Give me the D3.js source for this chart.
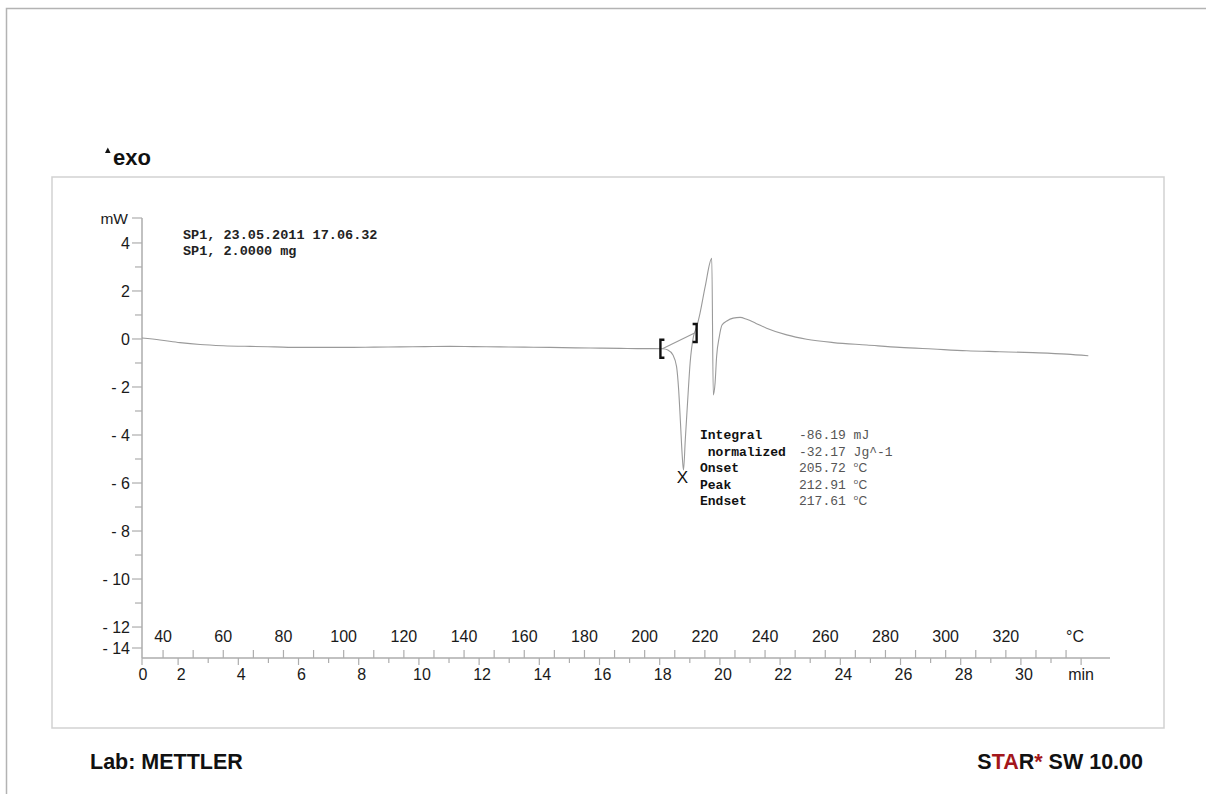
<!DOCTYPE html>
<html>
<head>
<meta charset="utf-8">
<script src="https://cdn.jsdelivr.net/npm/d3@7"></script>
<style>
  body { margin: 0; background: #fff; }
  svg { display: block; }
</style>
</head>
<body>
<svg id="chart" width="1206" height="794"></svg>
<script>
// DSC run of sample SP1: heat flow (mW) against sample temperature (°C)
const temperature = [33, 39, 45.6, 52.3, 60, 68.9, 77, 85.5, 94, 102.1,
  110, 118.7, 127, 135.3, 143, 151.9, 160, 168.5, 177, 185.2,
  192, 198.4, 203, 206.0, 207.7, 209.4, 210.6, 211.3, 211.9, 212.5,
  212.9, 213.5, 214.3, 215.1, 216.2, 217.3, 218.4, 220.1, 222.3, 222.8,
  223.4, 223.9, 224.8, 225.7, 227.3, 229.4, 231.7, 233.9, 237.0, 240.5,
  247.2, 253.8, 262.7, 273.8, 284.8, 295.8, 307.0, 318.0, 329.0, 340.2,
  347.4];
const heatFlow = [0.04, -0.04, -0.15, -0.23, -0.28, -0.31, -0.33, -0.35, -0.35, -0.35,
  -0.34, -0.33, -0.32, -0.31, -0.32, -0.33, -0.34, -0.35, -0.37, -0.38,
  -0.39, -0.40, -0.40, -0.41, -0.46, -0.67, -1.15, -2.13, -3.5, -4.9,
  -5.46, -4.2, -2.54, -1.0, 0.10, 0.51, 1.08, 2.18, 3.36, -2.33,
  -1.83, -0.74, 0.10, 0.58, 0.75, 0.87, 0.90, 0.82, 0.65, 0.45,
  0.17, -0.01, -0.15, -0.25, -0.35, -0.42, -0.49, -0.53, -0.57, -0.63,
  -0.70];

// Temperature program: start temperature and heating rate (K/min)
const startTemperature = 25;
const heatingRate = 10;

// Axis ticks
const tempTicks = [40, 60, 80, 100, 120, 140, 160, 180, 200, 220, 240, 260, 280, 300, 320];
const tempMinorTicks = [50, 70, 90, 110, 130, 150, 170, 190, 210, 230, 250, 270, 290, 310, 330];
const tempUnitTick = 340;
const timeTicks = [0, 2, 4, 6, 8, 10, 12, 14, 16, 18, 20, 22, 24, 26, 28, 30];
const timeMinorTicks = [3, 5, 7, 9, 11, 13, 15, 17, 19, 21, 23, 25, 27, 29, 31];
const timeUnitTick = 32;
const heatTicks = [4, 2, 0, -2, -4, -6, -8, -10, -12, -14];
const heatMinorTicks = [3, 1, -1, -3, -5, -7, -9, -11];

// Peak evaluation
const evalLabels = ["Integral", " normalized", "Onset", "Peak", "Endset"];
const evalValues = ["-86.19", "-32.17", "205.72", "212.91", "217.61"];
const evalUnits = ["mJ", "Jg^-1", "°C", "°C", "°C"];
const integrationLimits = [205.9, 216.6];
const peakTemperature = 212.9;

const headerLines = ["SP1, 23.05.2011 17.06.32", "SP1, 2.0000 mg"];

const svg = d3.select("#chart");
const axisColor = "#adadad";
const textColor = "#1a1a1a";
const sans = "'Liberation Sans', Arial, sans-serif";
const mono = "'Liberation Mono', 'Courier New', monospace";

// Page border and plot frame
svg.append("path").attr("d", "M6.5,794 V8.5 H1206")
  .attr("fill", "none").attr("stroke", "#b3b3b3").attr("stroke-width", 1.5);
svg.append("rect").attr("x", 52).attr("y", 177).attr("width", 1112).attr("height", 551)
  .attr("fill", "none").attr("stroke", "#d2d2d2").attr("stroke-width", 1.5);

// Scales
const x = d3.scaleLinear().domain([33, 354.6]).range([142, 1110]);
const y = d3.scaleLinear().domain([-13.29, 5.04]).range([658, 218]);
const timeToTemp = t => startTemperature + heatingRate * t;
const [xLeft, xRight] = x.range();
const [yBottom, yTop] = y.range();

// Axis lines
svg.append("line").attr("x1", xLeft).attr("x2", xLeft).attr("y1", yTop).attr("y2", yBottom)
  .attr("stroke", axisColor).attr("stroke-width", 1.5);
svg.append("line").attr("x1", xLeft).attr("x2", xRight).attr("y1", yBottom).attr("y2", yBottom)
  .attr("stroke", axisColor).attr("stroke-width", 1.5);

// Heat-flow axis (labels clamped inside the axis span)
const yPos = v => Math.min(y(v), yBottom - 10);
const yAxis = svg.append("g");
yAxis.selectAll("line.major").data(heatTicks).join("line")
  .attr("x1", xLeft - 10).attr("x2", xLeft).attr("y1", d => yPos(d)).attr("y2", d => yPos(d))
  .attr("stroke", axisColor).attr("stroke-width", 1.2);
yAxis.selectAll("line.minor").data(heatMinorTicks).join("line")
  .attr("x1", xLeft - 7).attr("x2", xLeft).attr("y1", d => y(d)).attr("y2", d => y(d))
  .attr("stroke", axisColor).attr("stroke-width", 1.2);
yAxis.append("line").attr("x1", xLeft - 10).attr("x2", xLeft).attr("y1", yTop).attr("y2", yTop)
  .attr("stroke", axisColor).attr("stroke-width", 1.2);
yAxis.selectAll("text.tick").data(heatTicks).join("text")
  .attr("x", xLeft - 12).attr("y", d => yPos(d)).attr("dy", "0.36em")
  .attr("text-anchor", "end").attr("font-family", sans).attr("font-size", 16).attr("fill", textColor)
  .text(d => d < 0 ? "- " + Math.abs(d) : String(d));
yAxis.append("text").attr("x", xLeft - 14).attr("y", yTop).attr("dy", "0.36em")
  .attr("text-anchor", "end").attr("font-family", sans).attr("font-size", 15.5).attr("fill", textColor)
  .text("mW");

// Temperature axis (ticks above the baseline)
const tempAxis = svg.append("g");
tempAxis.selectAll("line").data(tempTicks.concat(tempMinorTicks, [tempUnitTick])).join("line")
  .attr("x1", d => x(d)).attr("x2", d => x(d)).attr("y1", yBottom - 8).attr("y2", yBottom)
  .attr("stroke", axisColor).attr("stroke-width", 1.2);
tempAxis.selectAll("text").data(tempTicks).join("text")
  .attr("x", d => x(d)).attr("y", yBottom - 16)
  .attr("text-anchor", "middle").attr("font-family", sans).attr("font-size", 16).attr("fill", textColor)
  .text(d => d);
tempAxis.append("text").attr("x", x(tempUnitTick) + 9).attr("y", yBottom - 16)
  .attr("text-anchor", "middle").attr("font-family", sans).attr("font-size", 16).attr("fill", textColor)
  .text("°C");

// Time axis (ticks below the baseline)
const xTime = t => Math.max(x(timeToTemp(t)), xLeft);
const timeAxis = svg.append("g");
timeAxis.selectAll("line.major").data(timeTicks.concat([timeUnitTick])).join("line")
  .attr("x1", d => xTime(d)).attr("x2", d => xTime(d)).attr("y1", yBottom).attr("y2", yBottom + 7)
  .attr("stroke", axisColor).attr("stroke-width", 1.2);
timeAxis.selectAll("line.minor").data(timeMinorTicks).join("line")
  .attr("x1", d => xTime(d)).attr("x2", d => xTime(d)).attr("y1", yBottom).attr("y2", yBottom + 5)
  .attr("stroke", axisColor).attr("stroke-width", 1.2);
timeAxis.selectAll("text").data(timeTicks).join("text")
  .attr("x", d => xTime(d) + (d === 0 ? 1 : 3)).attr("y", yBottom + 22)
  .attr("text-anchor", "middle").attr("font-family", sans).attr("font-size", 16).attr("fill", textColor)
  .text(d => d);
timeAxis.append("text").attr("x", xTime(timeUnitTick)).attr("y", yBottom + 22)
  .attr("text-anchor", "middle").attr("font-family", sans).attr("font-size", 16).attr("fill", textColor)
  .text("min");

// Heat-flow curve
const points = temperature.map((T, i) => ({ T, mW: heatFlow[i] }));
const line = d3.line().x(d => x(d.T)).y(d => y(d.mW)).curve(d3.curveMonotoneX);
svg.append("path").datum(points).attr("d", line)
  .attr("fill", "none").attr("stroke", "#9a9a9a").attr("stroke-width", 1.1);

// Integration baseline between the evaluation limits
const bisect = d3.bisector(d => d.T).left;
function heatAt(T) {
  const i = Math.max(1, Math.min(points.length - 1, bisect(points, T)));
  const a = points[i - 1], b = points[i];
  return a.mW + (b.mW - a.mW) * (T - a.T) / (b.T - a.T);
}
const limitPts = integrationLimits.map(T => ({ T, mW: heatAt(T) }));
svg.append("line")
  .attr("x1", x(limitPts[0].T)).attr("y1", y(limitPts[0].mW))
  .attr("x2", x(limitPts[1].T)).attr("y2", y(limitPts[1].mW))
  .attr("stroke", "#9a9a9a").attr("stroke-width", 1.1);

// Limit brackets
limitPts.forEach((p, i) => {
  const px = x(p.T), py = y(p.mW);
  const dir = i === 0 ? -1 : 1;
  const bar = px + dir * 2;
  const tip = px - dir * 2;
  svg.append("path")
    .attr("d", `M${tip},${py - 9} H${bar} V${py + 9} H${tip}`)
    .attr("fill", "none").attr("stroke", "#111").attr("stroke-width", 2.4);
});

// Peak marker
const peakMW = d3.min(points, d => d.mW);
svg.append("text").attr("x", x(peakTemperature) - 1).attr("y", y(peakMW) + 13)
  .attr("text-anchor", "middle").attr("font-family", sans).attr("font-size", 17).attr("fill", "#111")
  .text("X");

// Evaluation table
const evalG = svg.append("g").attr("font-family", mono).attr("font-size", 13);
evalLabels.forEach((label, i) => {
  const ty = 439 + i * 16.5;
  evalG.append("text").attr("x", 700).attr("y", ty).attr("font-weight", "bold")
    .attr("fill", "#111").style("white-space", "pre").text(label);
  const v = evalG.append("text").attr("x", 799).attr("y", ty).attr("fill", "#555")
    .style("white-space", "pre");
  if (evalUnits[i] === "°C") {
    v.append("tspan").text(evalValues[i] + " ");
    v.append("tspan").attr("font-size", 8).attr("dy", -5).text("o");
    v.append("tspan").attr("dy", 5).attr("font-family", sans).attr("font-size", 12).text("C");
  } else {
    v.text(evalValues[i] + " " + evalUnits[i]);
  }
});

// Run header
svg.append("g").selectAll("text").data(headerLines).join("text")
  .attr("x", 183).attr("y", (d, i) => 238.5 + i * 16)
  .attr("font-family", mono).attr("font-size", 13.5).attr("font-weight", "bold").attr("fill", "#222")
  .style("white-space", "pre").text(d => d);

// Exo direction marker
svg.append("path").attr("d", "M105,153 L107.8,147.5 L110.6,153 Z").attr("fill", "#111");
svg.append("text").attr("x", 113).attr("y", 165)
  .attr("font-family", sans).attr("font-size", 22).attr("font-weight", "bold").attr("fill", "#111")
  .text("exo");

// Footer
svg.append("text").attr("x", 90).attr("y", 769)
  .attr("font-family", sans).attr("font-size", 21.5).attr("font-weight", "bold").attr("fill", "#111")
  .text("Lab: METTLER");
const star = svg.append("text").attr("x", 1143).attr("y", 769).attr("text-anchor", "end")
  .attr("font-family", sans).attr("font-size", 21.5).attr("font-weight", "bold").attr("fill", "#111");
star.append("tspan").text("S");
star.append("tspan").attr("fill", "#a3171b").text("TA");
star.append("tspan").text("R");
star.append("tspan").attr("fill", "#a3171b").text("*");
star.append("tspan").text(" SW 10.00");
</script>
</body>
</html>
